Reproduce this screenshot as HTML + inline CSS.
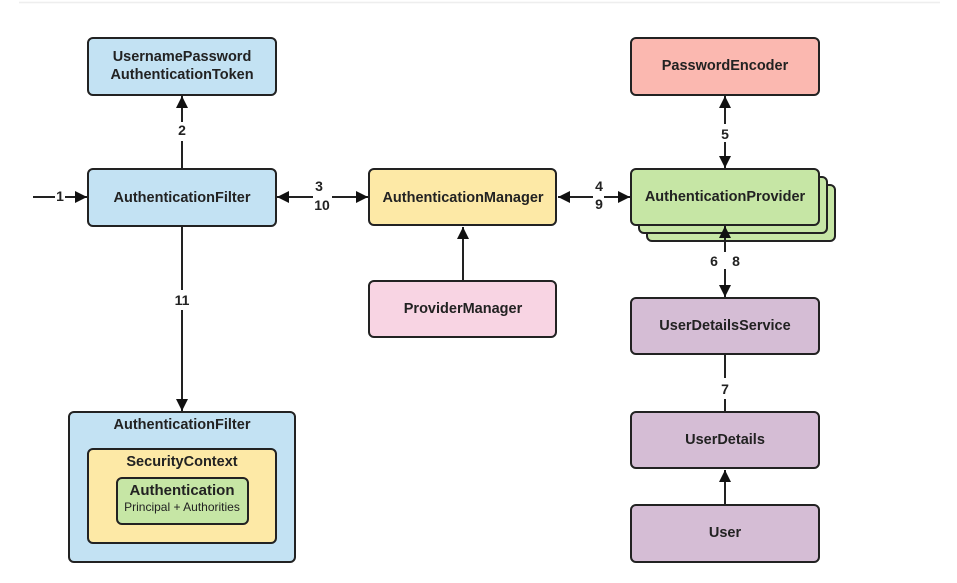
<!DOCTYPE html>
<html><head><meta charset="utf-8"><style>
html,body{margin:0;padding:0;background:#fff;}
svg{display:block;}
text{font-family:"Liberation Sans",sans-serif;font-weight:bold;fill:#222;}
</style></head><body>
<svg width="957" height="583" viewBox="0 0 957 583" xmlns="http://www.w3.org/2000/svg">
<defs>
<marker id="a" viewBox="0 0 10 10" refX="10" refY="5" markerWidth="12" markerHeight="12" markerUnits="userSpaceOnUse" orient="auto-start-reverse"><path d="M0,0 L10,5 L0,10 z" fill="#111"/></marker>
</defs>
<line x1="19" y1="2.5" x2="940" y2="2.5" stroke="#eee" stroke-width="1.5"/>
<g stroke="#222" stroke-width="2">
<line x1="33" y1="197" x2="55" y2="197"/><line x1="65" y1="197" x2="87" y2="197" marker-end="url(#a)"/>
<line x1="182" y1="169" x2="182" y2="141"/><line x1="182" y1="122" x2="182" y2="96" marker-end="url(#a)"/>
<line x1="182" y1="226" x2="182" y2="290"/><line x1="182" y1="310" x2="182" y2="411" marker-end="url(#a)"/>
<line x1="277" y1="197" x2="313" y2="197" marker-start="url(#a)"/><line x1="332" y1="197" x2="368" y2="197" marker-end="url(#a)"/>
<line x1="463" y1="281" x2="463" y2="227" marker-end="url(#a)"/>
<line x1="558" y1="197" x2="593" y2="197" marker-start="url(#a)"/><line x1="604" y1="197" x2="630" y2="197" marker-end="url(#a)"/>
<line x1="725" y1="96" x2="725" y2="124" marker-start="url(#a)"/><line x1="725" y1="142" x2="725" y2="168" marker-end="url(#a)"/>
<line x1="725" y1="355" x2="725" y2="378"/><line x1="725" y1="399" x2="725" y2="412"/>
<line x1="725" y1="505" x2="725" y2="470" marker-end="url(#a)"/>
</g>
<g stroke="#222" stroke-width="2">
<rect x="88" y="38" width="188" height="57" rx="5" fill="#c3e2f3"/>
<rect x="88" y="169" width="188" height="57" rx="5" fill="#c3e2f3"/>
<rect x="369" y="169" width="187" height="56" rx="5" fill="#fde9a6"/>
<rect x="369" y="281" width="187" height="56" rx="5" fill="#f8d4e3"/>
<rect x="631" y="38" width="188" height="57" rx="5" fill="#fbb8b0"/>
<rect x="647" y="185" width="188" height="56" rx="5" fill="#c6e6a5"/>
<rect x="639" y="177" width="188" height="56" rx="5" fill="#c6e6a5"/>
<rect x="631" y="169" width="188" height="56" rx="5" fill="#c6e6a5"/>
<rect x="631" y="298" width="188" height="56" rx="5" fill="#d5bdd5"/>
<rect x="631" y="412" width="188" height="56" rx="5" fill="#d5bdd5"/>
<rect x="631" y="505" width="188" height="57" rx="5" fill="#d5bdd5"/>
<rect x="69" y="412" width="226" height="150" rx="5" fill="#c3e2f3"/>
<rect x="88" y="449" width="188" height="94" rx="5" fill="#fde9a6"/>
<rect x="117" y="478" width="131" height="46" rx="5" fill="#c6e6a5"/>
</g>
<g stroke="#222" stroke-width="2">
<line x1="725" y1="226" x2="725" y2="252" marker-start="url(#a)"/><line x1="725" y1="269" x2="725" y2="297" marker-end="url(#a)"/>
</g>
<g font-size="14.5" text-anchor="middle">
<text x="182" y="61">UsernamePassword</text>
<text x="182" y="79">AuthenticationToken</text>
<text x="182" y="202">AuthenticationFilter</text>
<text x="463" y="202">AuthenticationManager</text>
<text x="463" y="313">ProviderManager</text>
<text x="725" y="70">PasswordEncoder</text>
<text x="725" y="201">AuthenticationProvider</text>
<text x="725" y="330">UserDetailsService</text>
<text x="725" y="444">UserDetails</text>
<text x="725" y="537">User</text>
<text x="182" y="429">AuthenticationFilter</text>
<text x="182" y="466">SecurityContext</text>
<text x="182" y="495" style="font-size:15px">Authentication</text>
<text x="182" y="511" style="font-size:12px;font-weight:normal">Principal + Authorities</text>
</g>
<g font-size="14" text-anchor="middle">
<text x="60" y="201">1</text>
<text x="182" y="135">2</text>
<text x="182" y="305">11</text>
<text x="319" y="191">3</text>
<text x="322" y="210">10</text>
<text x="599" y="191">4</text>
<text x="599" y="209">9</text>
<text x="725" y="139">5</text>
<text x="714" y="266">6</text>
<text x="736" y="266">8</text>
<text x="725" y="394">7</text>
</g>
</svg>
</body></html>
